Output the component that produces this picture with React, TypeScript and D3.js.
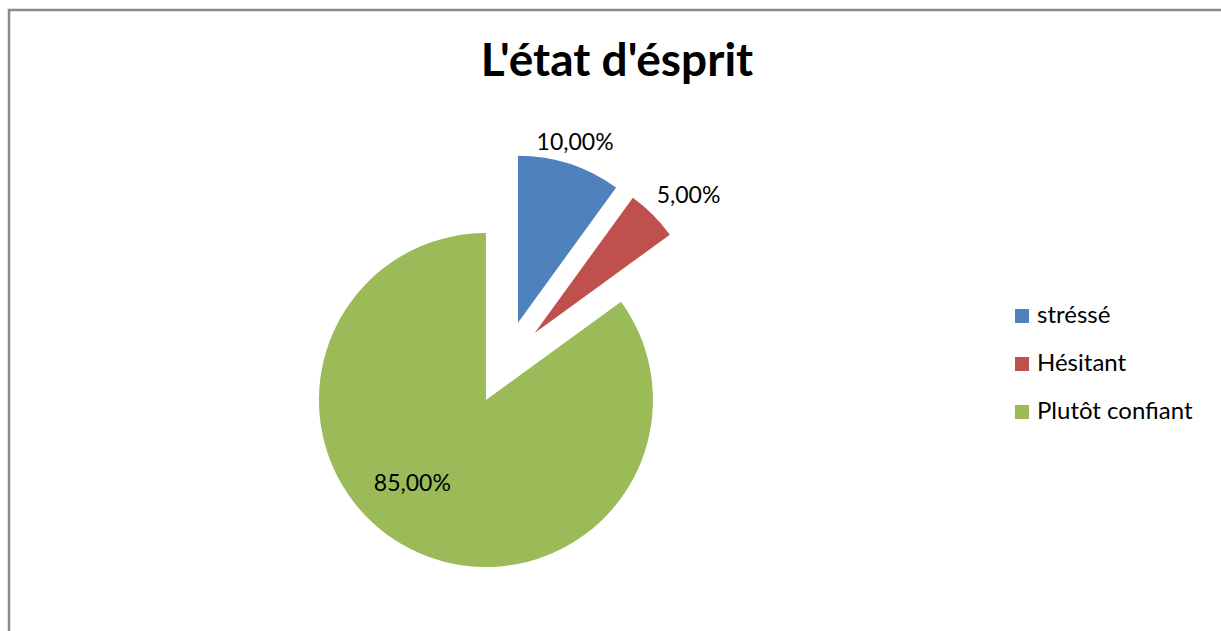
import { arc, pie, PieArcDatum } from "d3";

const title = "L'état d'ésprit";
const categories = ["stréssé", "Hésitant", "Plutôt confiant"];
const values = [10, 5, 85];
const valueLabels = ["10,00%", "5,00%", "85,00%"];
const colors = ["#4F81BD", "#C0504D", "#9BBB59"];

// where each data label sits, relative to its exploded slice
const labelPlacement = [
  { radius: 190, shift: -0.5 },
  { radius: 207, shift: 3 },
  { radius: 110, shift: 15 },
];

const width = 1221;
const height = 631;
const center = { x: 505, y: 362.6 };
const radius = 167;
const explode = 42;

interface Slice {
  label: string;
  value: number;
  text: string;
  color: string;
}

const slices: Slice[] = categories.map((label, i) => ({
  label,
  value: values[i],
  text: valueLabels[i],
  color: colors[i],
}));

export default function App() {
  const layout = pie<Slice>()
    .sort(null)
    .value((d) => d.value);
  const arcs = layout(slices);
  const arcGen = arc<PieArcDatum<Slice>>().innerRadius(0).outerRadius(radius);

  return (
    <svg
      width={width}
      height={height}
      style={{ position: "absolute", left: 0, top: 0, background: "#fff" }}
      fontFamily="Lato, 'Open Sans', sans-serif"
    >
      <rect
        x={9}
        y={10}
        width={width + 20}
        height={height + 20}
        fill="#fff"
        stroke="#8a8a8a"
        strokeWidth={2.5}
      />
      <text
        x={617}
        y={76}
        textAnchor="middle"
        fontSize={46}
        fontWeight="bold"
        fill="#000"
      >
        {title}
      </text>
      <g transform={`translate(${center.x}, ${center.y})`}>
        {arcs.map((a, i) => {
          const mid = (a.startAngle + a.endAngle) / 2;
          const dx = explode * Math.sin(mid);
          const dy = -explode * Math.cos(mid);
          const p = labelPlacement[i];
          const la = mid + (p.shift * Math.PI) / 180;
          const lx = p.radius * Math.sin(la);
          const ly = -p.radius * Math.cos(la);
          return (
            <g key={a.data.label} transform={`translate(${dx}, ${dy})`}>
              <path d={arcGen(a) as string} fill={a.data.color} />
              <text
                x={lx}
                y={ly}
                textAnchor="middle"
                dominantBaseline="central"
                fontSize={23}
                fill="#000"
              >
                {a.data.text}
              </text>
            </g>
          );
        })}
      </g>
      <g transform="translate(1015, 309)">
        {slices.map((s, i) => (
          <g key={s.label} transform={`translate(0, ${i * 48})`}>
            <rect width={14} height={14} fill={s.color} />
            <text x={22} y={14} fontSize={24} fill="#000">
              {s.label}
            </text>
          </g>
        ))}
      </g>
    </svg>
  );
}
